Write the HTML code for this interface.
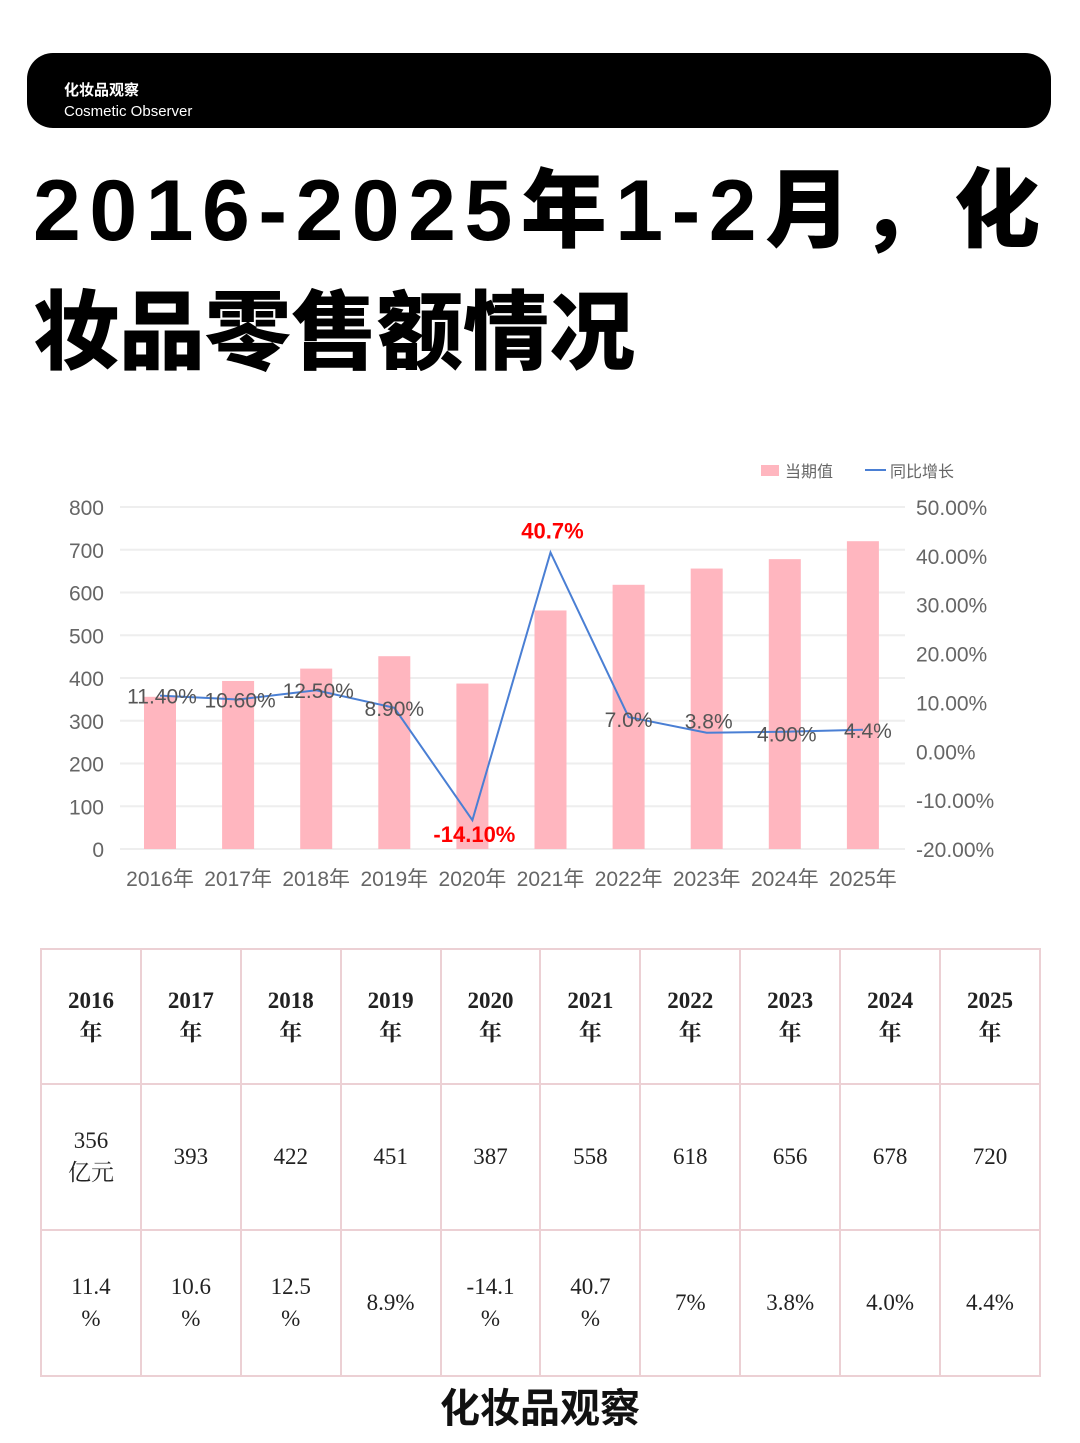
<!DOCTYPE html>
<html><head><meta charset="utf-8"><style>
body{margin:0;width:1080px;height:1443px;background:#fff;position:relative;overflow:hidden;font-family:"Liberation Sans","Noto Sans CJK SC",sans-serif}
.hdr{position:absolute;left:27px;top:53px;width:1024px;height:75px;background:#000;border-radius:26px}
.hdr .a{position:absolute;left:37px;top:26px;color:#fff;font-weight:bold;font-size:15px}
.hdr .b{position:absolute;left:37px;top:50px;color:#fff;font-size:15px}
.title{position:absolute;left:33px;font-weight:900;font-size:86px;color:#000;white-space:nowrap;font-family:"Liberation Sans","Noto Sans CJK SC",sans-serif;line-height:1}
table{position:absolute;left:40px;top:948px;width:1001px;table-layout:fixed;border-collapse:collapse;font-family:"Liberation Serif","Noto Serif CJK SC",serif;font-size:23px;color:#222}
td{border:2px solid #ecd0d4;text-align:center;line-height:32px;padding:0}
tr.h td{height:133px;font-weight:bold}
tr.v td{height:144px}
.foot{position:absolute;left:0;width:1080px;top:1376px;text-align:center;font-size:40px;font-weight:bold;color:#111}
</style></head><body>
<div class="hdr"><div class="a">化妆品观察</div><div class="b">Cosmetic Observer</div></div>
<div class="title" style="top:168px;letter-spacing:8.5px">2016-2025年1-2月，化</div>
<div class="title" style="top:290px">妆品零售额情况</div>
<svg id="chart" width="1080" height="460" style="position:absolute;left:0;top:440px"></svg>
<table>
<tr class="h"><td>2016<br>年</td><td>2017<br>年</td><td>2018<br>年</td><td>2019<br>年</td><td>2020<br>年</td><td>2021<br>年</td><td>2022<br>年</td><td>2023<br>年</td><td>2024<br>年</td><td>2025<br>年</td></tr>
<tr class="v"><td>356<br>亿元</td><td>393</td><td>422</td><td>451</td><td>387</td><td>558</td><td>618</td><td>656</td><td>678</td><td>720</td></tr>
<tr class="v"><td>11.4<br>%</td><td>10.6<br>%</td><td>12.5<br>%</td><td>8.9%</td><td>-14.1<br>%</td><td>40.7<br>%</td><td>7%</td><td>3.8%</td><td>4.0%</td><td>4.4%</td></tr>
</table>
<div class="foot">化妆品观察</div>
<script>
const categories=["2016年","2017年","2018年","2019年","2020年","2021年","2022年","2023年","2024年","2025年"];
const values=[356,393,422,451,387,558,618,656,678,720];
const growth=[11.4,10.6,12.5,8.9,-14.1,40.7,7.0,3.8,4.0,4.4];
const growthLabels=["11.40%","10.60%","12.50%","8.90%","-14.10%","40.7%","7.0%","3.8%","4.00%","4.4%"];
const leftTicks=[0,100,200,300,400,500,600,700,800];
const rightTicks=[-20,-10,0,10,20,30,40,50];
const NS="http://www.w3.org/2000/svg",svg=document.getElementById('chart');
const y0=409,y1=67;
const yL=v=>y0-(v/800)*(y0-y1);
const yR=v=>y0-((v+20)/70)*(y0-y1);
const xC=i=>160+i*78.1;
function mk(t,a,txt){const e=document.createElementNS(NS,t);for(const k in a)e.setAttribute(k,a[k]);if(txt!==undefined)e.textContent=txt;svg.appendChild(e);return e;}
leftTicks.forEach(v=>{let g=mk('line',{x1:120,x2:905,y1:yL(v),y2:yL(v),stroke:'#eee','stroke-width':2});

let t=mk('text',{x:104,y:yL(v)+8,'text-anchor':'end','font-size':21,fill:'#666'},v);
});
rightTicks.forEach(v=>{let t=mk('text',{x:916,y:yR(v)+8,'font-size':21,fill:'#666'},v.toFixed(2)+'%');
});
values.forEach((v,i)=>{let r=mk('rect',{x:xC(i)-16,y:yL(v),width:32,height:y0-yL(v),fill:'#ffb6bf'});

let t=mk('text',{x:xC(i),y:446,'text-anchor':'middle','font-size':21,fill:'#666'},categories[i]);
});
let l=mk('polyline',{points:growth.map((g,i)=>xC(i)+','+yR(g)).join(' '),fill:'none',stroke:'#4a7fd4','stroke-width':2});

growth.forEach((g,i)=>{let red=(i==4||i==5);let dy=red?(g>0?-22:14):(i==6||i==8?2:i==7?-12:0);
let t=mk('text',{x:xC(i)+(i==9?5:i==3||i==6?0:2),y:yR(g)+dy+8,'text-anchor':'middle','font-size':red?22:21,'font-weight':red?'bold':'normal',fill:red?'#f00':'#555'},growthLabels[i]);
});
let lg=mk('rect',{x:761,y:25,width:18,height:11,fill:'#ffb6bf'});
let lt=mk('text',{x:785,y:37,'font-size':16,fill:'#666'},'当期值');
let ll=mk('line',{x1:865,x2:886,y1:30,y2:30,stroke:'#4a7fd4','stroke-width':2});
let lt2=mk('text',{x:890,y:37,'font-size':16,fill:'#666'},'同比增长');
</script>
</body></html>
